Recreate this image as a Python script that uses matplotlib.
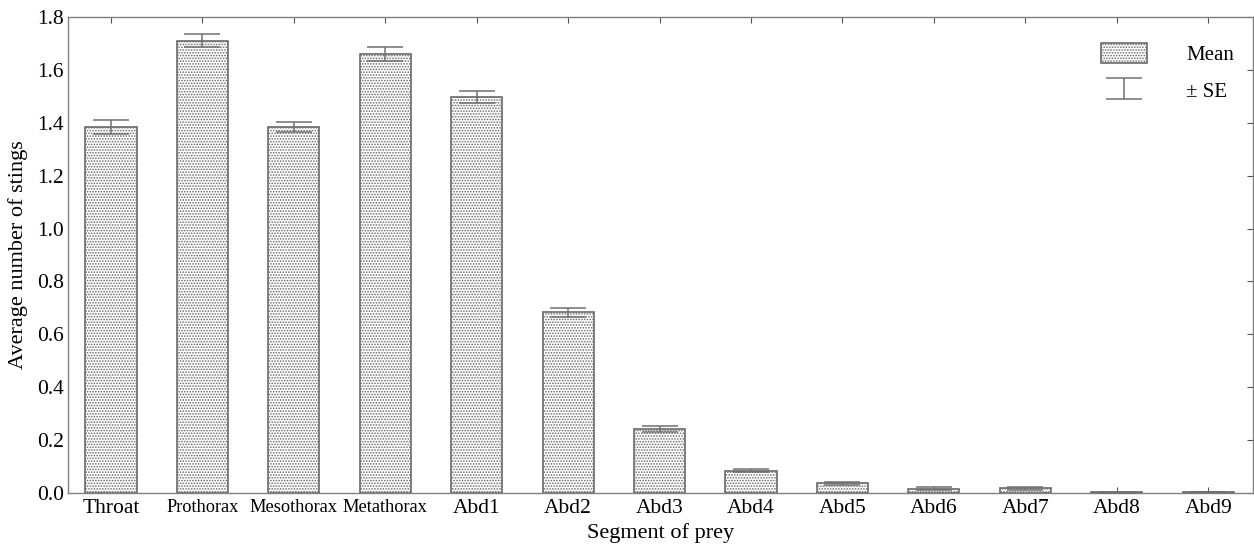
import matplotlib
matplotlib.use("Agg")
import matplotlib.pyplot as plt
import numpy as np

categories = ["Throat", "Prothorax", "Mesothorax", "Metathorax", "Abd1", "Abd2",
              "Abd3", "Abd4", "Abd5", "Abd6", "Abd7", "Abd8", "Abd9"]
means = [1.385, 1.711, 1.385, 1.660, 1.497, 0.683, 0.242, 0.084, 0.037, 0.017, 0.018, 0.003, 0.002]
se = [0.026, 0.024, 0.018, 0.026, 0.022, 0.016, 0.011, 0.006, 0.005, 0.005, 0.005, 0.002, 0.0]
yticks = [0.0, 0.2, 0.4, 0.6, 0.8, 1.0, 1.2, 1.4, 1.6, 1.8]

plt.rcParams['font.family'] = ['Liberation Serif', 'DejaVu Serif']
plt.rcParams['hatch.color'] = '#a8a8a8'
plt.rcParams['hatch.linewidth'] = 0.8

fig = plt.figure(figsize=(12.54, 5.5), dpi=100)
ax = fig.add_axes([68/1254, 1 - 493/550, (1253-68)/1254, (493-17)/550])

x = np.arange(len(categories))
edge = '#6a6a6a'
bars = ax.bar(x, means, width=0.56, color='white', edgecolor=edge, linewidth=1.2,
              hatch='......', label='Mean', zorder=2)
err = ax.errorbar(x, means, yerr=se, fmt='none', ecolor='#707070', elinewidth=1.1,
                  capsize=13, capthick=1.1, label='± SE', zorder=3)

ax.set_xlim(-0.47, 12.49)
ax.set_ylim(0, 1.8)
ax.set_yticks(yticks)
ax.set_yticklabels([f"{v:.1f}" for v in yticks], fontsize=15.5)
ax.set_xticks(x)
ax.set_xticklabels(categories, fontsize=15.5)
for lbl in ax.get_xticklabels()[1:4]:
    lbl.set_fontsize(13.2)

ax.tick_params(axis='x', direction='in', top=True, length=4,
               color='#555555', width=0.8, pad=4)
ax.tick_params(axis='y', direction='in', right=True, left=False, length=4,
               color='#555555', width=0.8, pad=3)
for s in ax.spines.values():
    s.set_color('#808080')
    s.set_linewidth(1.0)

ax.set_ylabel("Average number of stings", fontsize=16, labelpad=6)
ax.set_xlabel("Segment of prey", fontsize=16, labelpad=4)

leg = ax.legend(loc='upper right', bbox_to_anchor=(1.0, 0.985), frameon=False,
                fontsize=15, handlelength=2.2, handleheight=1.1, labelspacing=0.7,
                handletextpad=1.9)

fig.savefig("out.png", dpi=100)
